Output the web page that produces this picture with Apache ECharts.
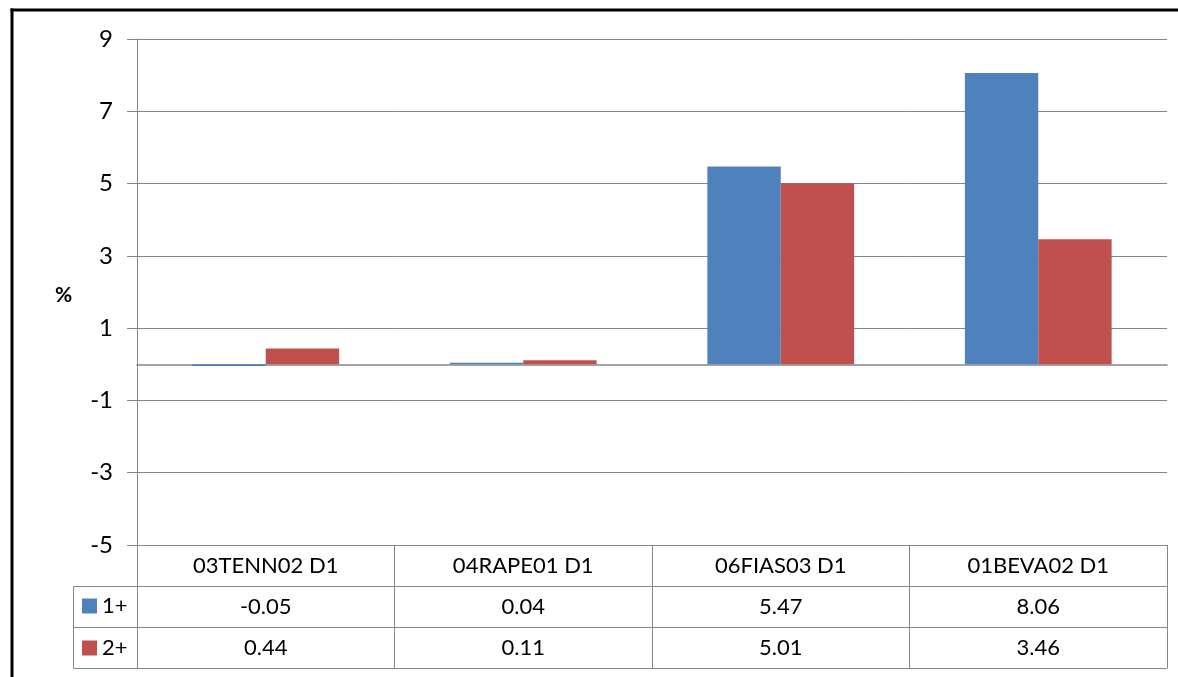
<!DOCTYPE html>
<html><head><meta charset="utf-8">
<script src="https://cdn.jsdelivr.net/npm/echarts@6/dist/echarts.min.js"></script>
<style>html,body{margin:0;padding:0;background:#fff}#c{width:1178px;height:677px}</style>
</head><body><div id="c"></div>
<script>
const categories = ['03TENN02 D1', '04RAPE01 D1', '06FIAS03 D1', '01BEVA02 D1'];
const seriesNames = ['1+', '2+'];
const values1 = [-0.05, 0.04, 5.47, 8.06];
const values2 = [0.44, 0.11, 5.01, 3.46];
const yTicks = { min: -5, max: 9, interval: 2 };

const FONT = 'Lato';
const GRAY = '#868686';
const rowH = 41;
const chart = echarts.init(document.getElementById('c'), null, { renderer: 'canvas' });

function tableAxis(offset, labelFn) {
  return {
    type: 'category', data: categories, position: 'bottom', offset: offset,
    axisLine: { show: true, onZero: false, lineStyle: { color: GRAY, width: 1 } },
    axisTick: { show: true, length: rowH, interval: 0, lineStyle: { color: GRAY, width: 1 } },
    axisLabel: labelFn ? { show: true, interval: 0, margin: rowH / 2, verticalAlign: 'middle',
      fontFamily: FONT, fontSize: 22, color: '#000', formatter: labelFn } : { show: false },
    splitLine: { show: false }
  };
}

const option = {
  animation: false,
  backgroundColor: '#fff',
  grid: { left: 137, right: 11, top: 39, bottom: 132, containLabel: false, outerBoundsMode: 'none' },
  legend: {
    data: seriesNames, orient: 'vertical', left: 82, top: 593, itemWidth: 15, itemHeight: 15,
    itemGap: 16, icon: 'rect', selectedMode: false, padding: 0, height: 84,
    textStyle: { fontFamily: FONT, fontSize: 22, color: '#000', lineHeight: 26 }
  },
  xAxis: [
    { type: 'category', data: categories,
      axisLine: { show: true, onZero: true, lineStyle: { color: GRAY, width: 1.6 } },
      axisTick: { show: false }, axisLabel: { show: false }, splitLine: { show: false } },
    tableAxis(0, (v) => v),
    tableAxis(rowH, (v, i) => values1[i].toFixed(2)),
    tableAxis(rowH * 2, (v, i) => values2[i].toFixed(2)),
    { type: 'category', data: categories, position: 'bottom', offset: rowH * 3,
      axisLine: { show: true, onZero: false, lineStyle: { color: GRAY, width: 1 } },
      axisTick: { show: false }, axisLabel: { show: false } }
  ],
  yAxis: {
    type: 'value', min: yTicks.min, max: yTicks.max, interval: yTicks.interval,
    axisLine: { show: true, lineStyle: { color: GRAY, width: 1 } },
    axisTick: { show: true, length: 10, lineStyle: { color: GRAY } },
    axisLabel: { fontFamily: FONT, fontSize: 24, color: '#000', margin: 24 },
    splitLine: { show: true, lineStyle: { color: GRAY, width: 1 } }
  },
  series: [
    { name: seriesNames[0], type: 'bar', data: values1, xAxisIndex: 0, barGap: '0%', barCategoryGap: '43%',
      itemStyle: { color: '#4F81BD' } },
    { name: seriesNames[1], type: 'bar', data: values2, xAxisIndex: 0, barGap: '0%', barCategoryGap: '43%',
      itemStyle: { color: '#C0504D' } }
  ],
  graphic: [
    { type: 'text', left: 55, top: 285, style: { text: '%', fontFamily: FONT, fontSize: 21, fontWeight: 'bold', fill: '#000' } },
    { type: 'rect', shape: { x: 73.5, y: 586.5, width: 64, height: 82 }, style: { fill: 'none', stroke: GRAY, lineWidth: 1 } },
    { type: 'line', shape: { x1: 73.5, y1: 627.5, x2: 137.5, y2: 627.5 }, style: { stroke: GRAY, lineWidth: 1 } },
    { type: 'line', shape: { x1: 12, y1: 8.5, x2: 12, y2: 677 }, style: { stroke: '#000', lineWidth: 3 } },
    { type: 'line', shape: { x1: 10.5, y1: 10, x2: 1178, y2: 10 }, style: { stroke: '#000', lineWidth: 3 } }
  ]
};
chart.setOption(option);
</script></body></html>
